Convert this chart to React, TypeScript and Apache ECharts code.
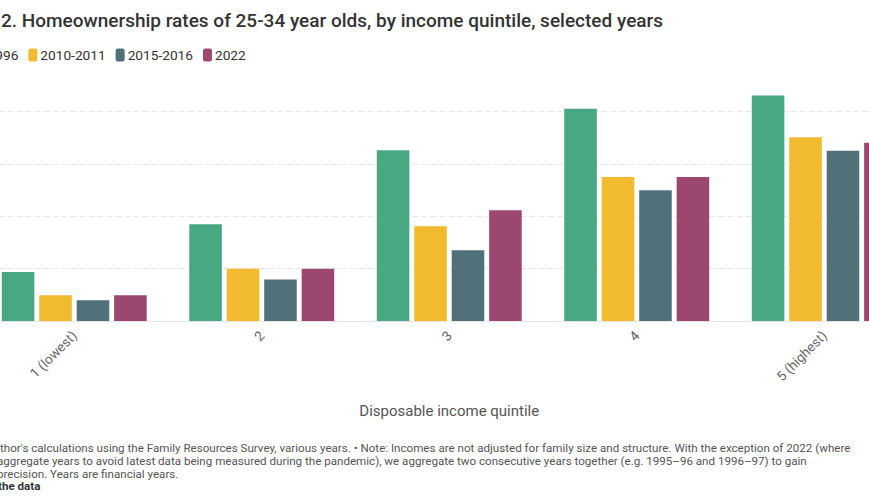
import React, { useEffect, useRef } from "react";
import * as echarts from "echarts";

const categories = ["1 (lowest)", "2", "3", "4", "5 (highest)"];
const seriesNames = ["1995-1996", "2010-2011", "2015-2016", "2022"];
const values1996 = [18.7, 36.9, 65.2, 81.0, 86.1];
const values2011 = [9.8, 19.9, 36.2, 55.0, 70.1];
const values2016 = [7.9, 15.8, 27.0, 49.9, 65.0];
const values2022 = [9.8, 19.9, 42.3, 55.0, 68.0];
const colors = ["#47a882", "#f2bb2f", "#50717a", "#9b476f"];

const titleText = "2. Homeownership rates of 25-34 year olds, by income quintile, selected years";
const footerLines = [
  "thor's calculations using the Family Resources Survey, various years. \u2022 Note: Incomes are not adjusted for family size and structure. With the exception of 2022 (where",
  "aggregate years to avoid latest data being measured during the pandemic), we aggregate two consecutive years together (e.g. 1995\u201396 and 1996\u201397) to gain",
  "precision. Years are financial years.",
];
const footerLink = "the data";

// the chart canvas is wider than the window and shifted left, as in the cropped reference
const SHIFT = 80;

export default function App() {
  const ref = useRef<HTMLDivElement>(null);
  useEffect(() => {
    if (!ref.current) return;
    const chart = echarts.init(ref.current, null, { renderer: "svg" });
    const allValues = [values1996, values2011, values2016, values2022];
    const font = "Roboto, 'Noto Sans', sans-serif";
    chart.setOption({
      animation: false,
      textStyle: { fontFamily: font },
      color: colors,
      legend: {
        left: SHIFT - 64,
        top: 43,
        itemWidth: 9,
        itemHeight: 13,
        itemGap: 10,
        icon: "roundRect",
        textStyle: { fontSize: 13.7, color: "#333", fontFamily: font, padding: [0, 0, 0, -2] },
        data: seriesNames,
      },
      grid: { left: SHIFT - 19.5, width: 937.5, top: 59, height: 262, containLabel: false },
      xAxis: {
        type: "category",
        data: categories,
        axisLine: { lineStyle: { color: "#e6e6e6" } },
        axisTick: { alignWithLabel: true, length: 8, lineStyle: { color: "#e6e6e6" } },
        axisLabel: { rotate: 45, fontSize: 13.5, color: "#666", margin: 12, fontFamily: font },
        name: "Disposable income quintile",
        nameLocation: "middle",
        nameGap: 82,
        nameTextStyle: { fontSize: 15, color: "#555", fontFamily: font },
      },
      yAxis: {
        type: "value",
        min: 0,
        max: 100,
        interval: 20,
        axisLabel: { show: false },
        axisLine: { show: false },
        axisTick: { show: false },
        splitLine: {
          lineStyle: {
            color: ["#e6e6e6", "#e6e6e6", "#e6e6e6", "#e6e6e6", "#e6e6e6", "rgba(0,0,0,0)"],
            type: [6, 3],
          },
        },
      },
      series: seriesNames.map((name, i) => ({
        name,
        type: "bar",
        data: allValues[i],
        barGap: "15%",
        barCategoryGap: "22.7%",
        itemStyle: { color: colors[i] },
      })),
      graphic: [
        {
          type: "text",
          left: SHIFT + 1,
          top: 11,
          style: { text: titleText, font: `500 19px ${font}`, fill: "#333" },
        },
        ...footerLines.map((t, i) => ({
          type: "text",
          left: SHIFT + (i === 0 ? 0 : -3),
          top: 442 + i * 12.8,
          style: { text: t, fontFamily: font, fontSize: 11.6, fill: "#555" },
        })),
        {
          type: "text",
          left: SHIFT - 2,
          top: 442 + 3 * 12.8,
          style: { text: footerLink, fontFamily: font, fontSize: 11.6, fontWeight: "bold", fill: "#333" },
        },
      ],
    });
    return () => chart.dispose();
  }, []);
  return (
    <div style={{ position: "absolute", left: 0, top: 0, width: 869, height: 504, overflow: "hidden", background: "#fff" }}>
      <div ref={ref} style={{ position: "absolute", left: -SHIFT, top: 0, width: 1010, height: 504 }} />
    </div>
  );
}
